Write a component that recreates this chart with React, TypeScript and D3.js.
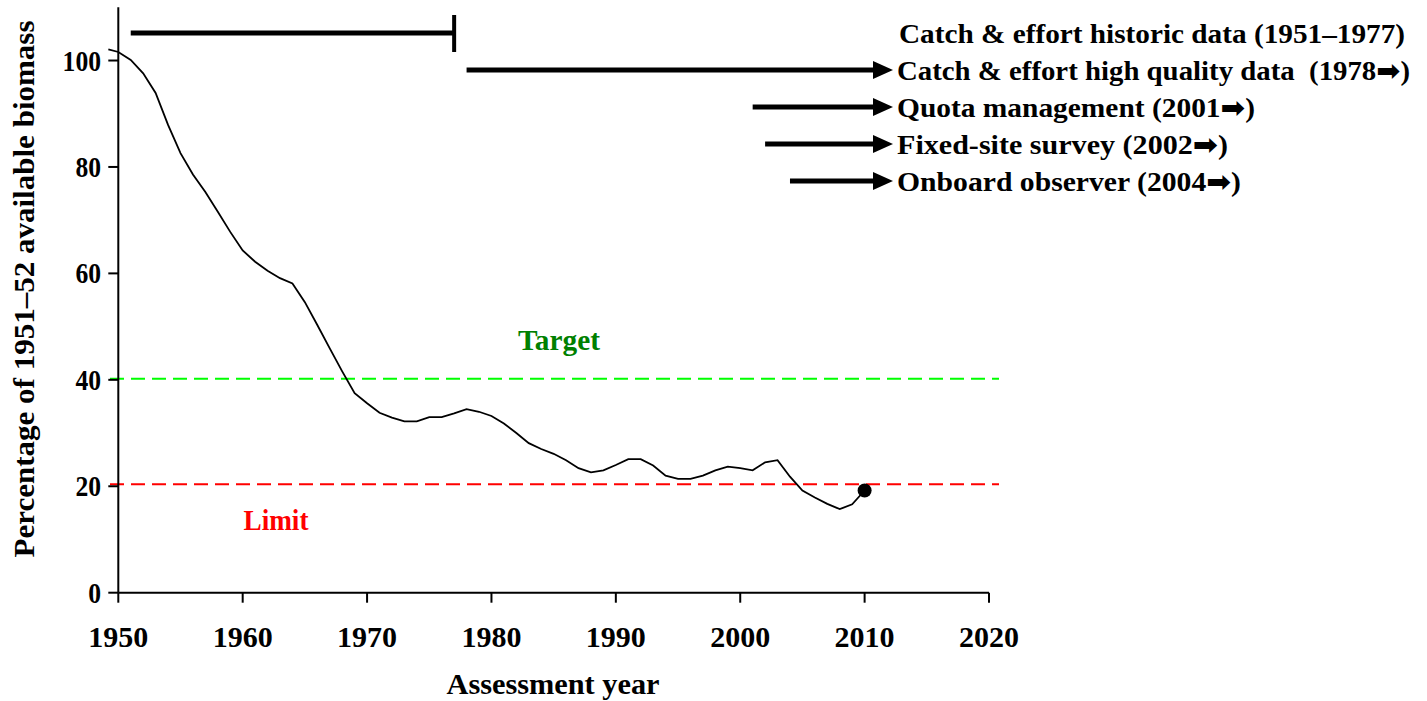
import React from "react";
import * as d3 from "d3";

const years = [1949.2, 1950, 1951, 1952, 1953, 1954, 1955, 1956, 1957, 1958, 1959, 1960, 1961, 1962, 1963, 1964, 1965, 1966, 1967, 1968, 1969, 1970, 1971, 1972, 1973, 1974, 1975, 1976, 1977, 1978, 1979, 1980, 1981, 1982, 1983, 1984, 1985, 1986, 1987, 1988, 1989, 1990, 1991, 1992, 1993, 1994, 1995, 1996, 1997, 1998, 1999, 2000, 2001, 2002, 2003, 2004, 2005, 2006, 2007, 2008, 2009, 2010];
const biomass = [102.1, 101.6, 100.1, 97.6, 93.9, 87.9, 82.6, 78.6, 75.3, 71.6, 67.8, 64.3, 62.2, 60.5, 59.1, 58.1, 54.6, 50.3, 45.9, 41.6, 37.5, 35.6, 33.8, 32.9, 32.2, 32.2, 33.0, 33.0, 33.7, 34.5, 34.0, 33.2, 31.8, 30.0, 28.1, 27.0, 26.1, 24.9, 23.4, 22.6, 23.0, 24.0, 25.1, 25.1, 23.9, 22.0, 21.4, 21.4, 22.0, 23.0, 23.7, 23.4, 23.0, 24.5, 24.9, 21.8, 19.2, 17.9, 16.7, 15.7, 16.6, 19.2];
const lastPoint = { year: 2010, value: 19.2 };

const xTicks = [1950, 1960, 1970, 1980, 1990, 2000, 2010, 2020];
const yTicks = [0, 20, 40, 60, 80, 100];

const targetValue = 40.2;
const limitValue = 20.4;

const historicRange = [1951, 1977];
const historicLabel = "Catch & effort historic data (1951\u20131977)";
const arrowStarts = [1978, 2001, 2002, 2004];
const arrowLabels = [
  "Catch & effort high quality data  (1978\u27A1)",
  "Quota management (2001\u27A1)",
  "Fixed-site survey (2002\u27A1)",
  "Onboard observer (2004\u27A1)",
];
const labelWidths = [506, 513, 358, 331, 344];

const W = 1427;
const H = 701;
const FONT = "'Liberation Serif', 'Times New Roman', serif";
const FONT_ARROW = "'Liberation Serif', 'DejaVu Sans', serif";
const FS = 30;
const LFS = 28;

export default function App() {
  const x = d3.scaleLinear().domain([1950, 2020]).range([118.3, 989]);
  const y = d3.scaleLinear().domain([0, 110]).range([592.7, 7.3]);
  const line = d3
    .line<number>()
    .x((_, i) => x(years[i]))
    .y((d) => y(d));

  const tipX = 893;
  const legendX = 897;
  const rowY = (i: number) => 33 + i * 37;
  const yLabelW = (t: number) => String(t).length * 12.8;

  return (
    <div style={{ position: "absolute", left: 0, top: 0 }}>
      <svg width={W} height={H} style={{ display: "block", background: "#fff" }}>
        {/* reference lines */}
        <line x1={110} x2={999} y1={y(targetValue)} y2={y(targetValue)} stroke="#00ff00" strokeWidth={2} strokeDasharray="14 7" />
        <line x1={110} x2={999} y1={y(limitValue)} y2={y(limitValue)} stroke="#ff0000" strokeWidth={2} strokeDasharray="14 7" />

        {/* axes */}
        <line x1={x(1950)} x2={x(1950)} y1={y(110)} y2={y(0)} stroke="#000" strokeWidth={2} />
        <line x1={x(1950)} x2={x(2020)} y1={y(0)} y2={y(0)} stroke="#000" strokeWidth={2} />
        {yTicks.map((t) => (
          <g key={"y" + t}>
            <line x1={x(1950) - 10} x2={x(1950)} y1={y(t)} y2={y(t)} stroke="#000" strokeWidth={2} />
            <text x={101} y={y(t) + 10} textAnchor="end" fontFamily={FONT} fontWeight="bold" fontSize={FS} textLength={yLabelW(t)} lengthAdjust="spacingAndGlyphs">
              {t}
            </text>
          </g>
        ))}
        {xTicks.map((t) => (
          <g key={"x" + t}>
            <line x1={x(t)} x2={x(t)} y1={y(0)} y2={y(0) + 10} stroke="#000" strokeWidth={2} />
            <text x={x(t)} y={647} textAnchor="middle" fontFamily={FONT} fontWeight="bold" fontSize={FS} textLength={60} lengthAdjust="spacingAndGlyphs">
              {t}
            </text>
          </g>
        ))}

        {/* curve */}
        <path d={line(biomass) || ""} fill="none" stroke="#000" strokeWidth={1.8} />
        <circle cx={x(lastPoint.year)} cy={y(lastPoint.value)} r={7} fill="#000" />

        {/* labels */}
        <text x={559} y={350} textAnchor="middle" fill="#008000" fontFamily={FONT} fontWeight="bold" fontSize={FS} textLength={82} lengthAdjust="spacingAndGlyphs">
          Target
        </text>
        <text x={276} y={530} textAnchor="middle" fill="#ff0000" fontFamily={FONT} fontWeight="bold" fontSize={FS} textLength={65} lengthAdjust="spacingAndGlyphs">
          Limit
        </text>

        {/* axis titles */}
        <text x={553} y={694} textAnchor="middle" fontFamily={FONT} fontWeight="bold" fontSize={FS} textLength={213} lengthAdjust="spacingAndGlyphs">
          Assessment year
        </text>
        <text
          transform={`translate(34, 289) rotate(-90)`}
          textAnchor="middle"
          fontFamily={FONT}
          fontWeight="bold"
          fontSize={FS}
          textLength={537}
          lengthAdjust="spacingAndGlyphs"
        >
          Percentage of 1951–52 available biomass
        </text>

        {/* historic bar */}
        <line x1={x(historicRange[0])} x2={x(historicRange[1])} y1={rowY(0)} y2={rowY(0)} stroke="#000" strokeWidth={5} />
        <line x1={x(historicRange[1])} x2={x(historicRange[1])} y1={15} y2={52} stroke="#000" strokeWidth={4} />
        <text x={legendX + 2} y={rowY(0) + 10} fontFamily={FONT} fontWeight="bold" fontSize={LFS} textLength={labelWidths[0]} lengthAdjust="spacingAndGlyphs">
          {historicLabel}
        </text>

        {/* arrows */}
        {arrowStarts.map((s, i) => {
          const yy = rowY(i + 1);
          return (
            <g key={"a" + s}>
              <line x1={x(s)} x2={tipX - 18} y1={yy} y2={yy} stroke="#000" strokeWidth={5} />
              <path d={`M${tipX - 20},${yy - 9}L${tipX},${yy}L${tipX - 20},${yy + 9}Z`} fill="#000" />
              <text x={legendX} y={yy + 10} fontFamily={FONT_ARROW} fontWeight="bold" fontSize={LFS} textLength={labelWidths[i + 1]} lengthAdjust="spacingAndGlyphs" style={{ whiteSpace: "pre" }}>
                {arrowLabels[i]}
              </text>
            </g>
          );
        })}
      </svg>
    </div>
  );
}
